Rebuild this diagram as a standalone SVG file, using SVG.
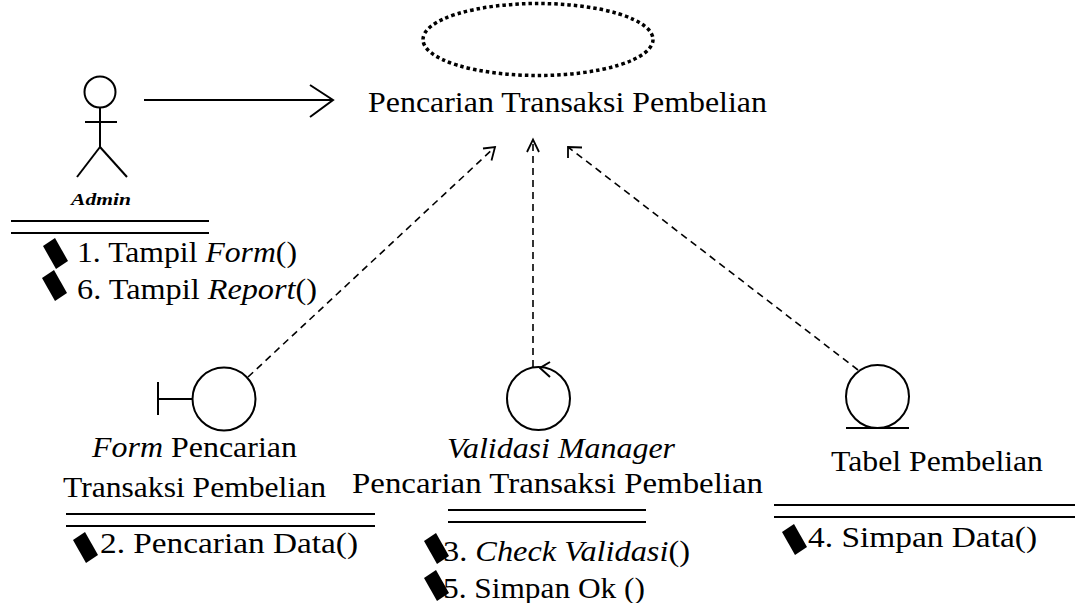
<svg xmlns="http://www.w3.org/2000/svg" width="1075" height="603" viewBox="0 0 1075 603">
<style>
text{font-family:"Liberation Serif","Times New Roman",Times,serif;font-size:29px;fill:#000}
.it{font-style:italic}
.adm{font-size:17px;font-weight:bold;font-style:italic}
.ln{stroke:#000;stroke-width:2;fill:none}
.sym{stroke:#000;stroke-width:2;fill:none}
.dash{stroke:#000;stroke-width:1.6;fill:none;stroke-dasharray:7 5}
.head{stroke:#000;stroke-width:1.8;fill:none}
.dot{stroke:#000;stroke-width:3.5;fill:none;stroke-dasharray:3.5 3}
.msgmark{fill:#000}
</style>
<defs>
<polygon id="mk" points="0,8 12,0 25,23 13,31"/>
</defs>
<rect width="1075" height="603" fill="#fff"/>

<g id="usecase">
<ellipse class="dot" cx="538" cy="39.5" rx="115" ry="36"/>
<text x="368" y="112" textLength="399" lengthAdjust="spacingAndGlyphs">Pencarian Transaksi Pembelian</text>
</g>

<g id="admin">
<circle class="sym" cx="100" cy="92" r="15.5"/>
<line class="sym" x1="100" y1="107.5" x2="100" y2="147"/>
<line class="sym" x1="85" y1="122" x2="117" y2="122"/>
<line class="sym" x1="100" y1="147" x2="77" y2="177"/>
<line class="sym" x1="100" y1="147" x2="127" y2="177"/>
<text class="adm" x="71" y="205" textLength="60" lengthAdjust="spacingAndGlyphs">Admin</text>
<line class="ln" x1="11" y1="221" x2="209" y2="221"/>
<line class="ln" x1="11" y1="233" x2="209" y2="233"/>
<use href="#mk" class="msgmark" transform="translate(43,238)"/>
<text x="77" y="262" textLength="220" lengthAdjust="spacingAndGlyphs">1. Tampil <tspan class="it">Form</tspan>()</text>
<use href="#mk" class="msgmark" transform="translate(42,270)"/>
<text x="77" y="299" textLength="240" lengthAdjust="spacingAndGlyphs">6. Tampil <tspan class="it">Report</tspan>()</text>
</g>

<g id="boundary">
<circle class="sym" cx="224" cy="399" r="31.5"/>
<line class="sym" x1="158" y1="399" x2="192.5" y2="399"/>
<line class="sym" x1="158" y1="382" x2="158" y2="415"/>
<text x="92" y="457" textLength="205" lengthAdjust="spacingAndGlyphs"><tspan class="it">Form</tspan> Pencarian</text>
<text x="63" y="497" textLength="263" lengthAdjust="spacingAndGlyphs">Transaksi Pembelian</text>
<line class="ln" x1="66" y1="514" x2="375" y2="514"/>
<line class="ln" x1="66" y1="526" x2="375" y2="526"/>
<use href="#mk" class="msgmark" transform="translate(73,532)"/>
<text x="100" y="553" textLength="258" lengthAdjust="spacingAndGlyphs">2. Pencarian Data()</text>
</g>

<g id="control">
<circle class="sym" cx="538.5" cy="398.5" r="31.5"/>
<polyline class="sym" points="550,362 540,368 550,377"/>
<text class="it" x="447" y="458" textLength="228" lengthAdjust="spacingAndGlyphs">Validasi Manager</text>
<text x="352" y="493" textLength="411" lengthAdjust="spacingAndGlyphs">Pencarian Transaksi Pembelian</text>
<line class="ln" x1="448" y1="510" x2="646" y2="510"/>
<line class="ln" x1="448" y1="522" x2="646" y2="522"/>
<text x="443" y="561" textLength="247" lengthAdjust="spacingAndGlyphs">3. <tspan class="it">Check Validasi</tspan>()</text>
<use href="#mk" class="msgmark" transform="translate(424,533)"/>
<text x="443" y="598" textLength="202" lengthAdjust="spacingAndGlyphs">5. Simpan Ok ()</text>
<use href="#mk" class="msgmark" transform="translate(424,570)"/>
</g>

<g id="entity">
<circle class="sym" cx="877.5" cy="396.5" r="31.5"/>
<line class="sym" x1="846" y1="428" x2="909" y2="428"/>
<text x="831" y="471" textLength="212" lengthAdjust="spacingAndGlyphs">Tabel Pembelian</text>
<line class="ln" x1="774" y1="505" x2="1075" y2="505"/>
<line class="ln" x1="774" y1="517" x2="1075" y2="517"/>
<use href="#mk" class="msgmark" transform="translate(782,524)"/>
<text x="808" y="547" textLength="229" lengthAdjust="spacingAndGlyphs">4. Simpan Data()</text>
</g>

<g id="connectors">
<line class="sym" x1="144" y1="100" x2="333" y2="100"/>
<polyline class="sym" points="310,85 333,100 310,117"/>
<line class="dash" x1="248" y1="377" x2="495" y2="147"/>
<polyline class="head" points="483,148.5 495,147 491.5,160.5"/>
<line class="dash" x1="533" y1="367" x2="533" y2="140"/>
<polyline class="head" points="527,152 533,139.5 539,152"/>
<line class="dash" x1="858" y1="370" x2="568" y2="147"/>
<polyline class="head" points="582,147.5 568,147 568,158"/>
</g>
</svg>
